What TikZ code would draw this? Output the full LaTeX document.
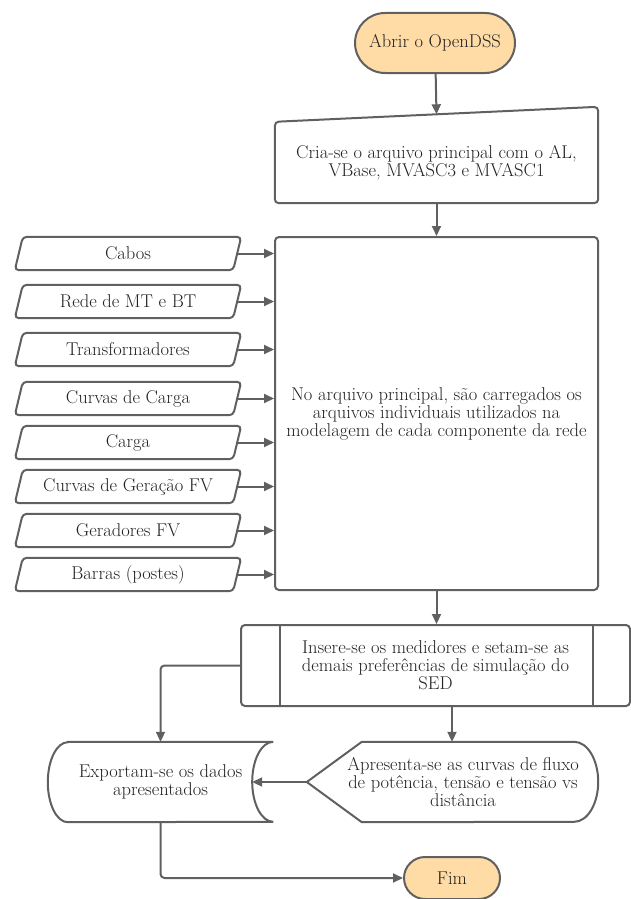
\documentclass[tikz,border=0pt]{standalone}
\usetikzlibrary{arrows.meta,shapes.misc,calc}

\definecolor{linegray}{HTML}{606060}
\definecolor{textgray}{HTML}{222222}
\definecolor{termfill}{HTML}{FFDBA6}

\begin{document}
\begin{tikzpicture}[
            x=1pt, y=-1pt,
            every node/.style={font=\fontsize{18.5}{18}\selectfont,text=textgray,align=center,inner sep=0pt},
            line/.style={draw=linegray,line width=2pt},
            flow/.style={line,-{Triangle[length=10pt,width=9pt]}},
            terminal/.style={rounded rectangle,line,fill=termfill},
            process/.style={rectangle,line,rounded corners=4pt},
            datain/.style={minimum width=226,minimum height=33}
        ]
            \useasboundingbox (0,0) rectangle (631,899);

            % Start
            \node[terminal,minimum width=160,minimum height=60] (start) at (435,43) {Abrir o OpenDSS};

            % Manual input
            \node[minimum width=323,minimum height=81] (create) at (436.5,162.5)
                {Cria-se o arquivo principal com o AL,\\VBase, MVASC3 e MVASC1};
            \draw[line,rounded corners=4pt] (create.south west) -- (create.north west)
                -- ([yshift=15pt]create.north east) -- (create.south east) -- cycle;
            \coordinate (createtop) at ($(create.north west)!0.5!([yshift=15pt]create.north east)$);

            % Main file
            \node[process,minimum width=323,minimum height=353] (main) at (436.5,413.5)
                {No arquivo principal, são carregados os\\arquivos individuais utilizados na\\modelagem de cada componente da rede};

            % Inputs
            \foreach \name/\y/\txt in {cabos/253.5/Cabos,rede/301.5/Rede de MT e BT,
                trafo/349.5/Transformadores,curvcarga/398.5/Curvas de Carga,
                carga/442.5/Carga,curvger/486.5/Curvas de Geração FV,
                gerad/530.5/Geradores FV,barras/574.5/Barras (postes)} {
                \node[datain] (\name) at (128,\y) {\txt};
                \draw[line,rounded corners=4pt] ([xshift=8pt]\name.north west) -- (\name.north east)
                    -- ([xshift=-8pt]\name.south east) -- (\name.south west) -- cycle;
                \draw[flow] ([xshift=-4pt]\name.east) -- (main.west |- \name.east);
            }

            % Predefined process
            \node[process,minimum width=389,minimum height=81] (insert) at (435.5,665.5)
                {Insere-se os medidores e setam-se as\\demais preferências de simulação do\\SED};
            \draw[line] ([xshift=40pt]insert.north west) -- ([xshift=40pt]insert.south west);
            \draw[line] ([xshift=-38pt]insert.north east) -- ([xshift=-38pt]insert.south east);

            % Display
            \node[minimum width=270,minimum height=80] (show) at (463,782)
                {Apresenta-se as curvas de fluxo\\de potência, tensão e tensão vs\\distância};
            \coordinate (showtip) at ([xshift=-21pt]show.west);
            \draw[line] (showtip) -- ([xshift=34pt]show.north west) -- ([xshift=-24pt]show.north east)
                arc[start angle=90,end angle=-90,x radius=24pt,y radius=40pt]
                -- ([xshift=34pt]show.south west) -- cycle;

            % Stored data
            \node[minimum width=225,minimum height=80] (export) at (160.5,782)
                {Exportam-se os dados\\apresentados};
            \draw[line] ([xshift=20pt]export.north west) -- (export.north east)
                arc[start angle=90,end angle=270,x radius=21pt,y radius=40pt]
                -- ([xshift=20pt]export.south west)
                arc[start angle=270,end angle=90,x radius=20pt,y radius=40pt] -- cycle;

            % End
            \node[terminal,minimum width=96,minimum height=42] (fim) at (452,878) {Fim};

            % Connectors
            \draw[flow] (start) -- (createtop);
            \draw[flow] (create.south -| createtop) -- (main.north -| createtop);
            \draw[flow] (main.south -| createtop) -- (insert.north -| createtop);
            \draw[flow] ([xshift=16.5pt]insert.south) -- ([xshift=16.5pt]insert.south |- show.north);
            \draw[flow] (showtip) -- ([xshift=-21pt]export.east);
            \draw[flow,rounded corners=4pt] (insert.west) -| (export.north);
            \draw[flow,rounded corners=4pt] (export.south) |- (fim.west);
        \end{tikzpicture}
\end{document}
